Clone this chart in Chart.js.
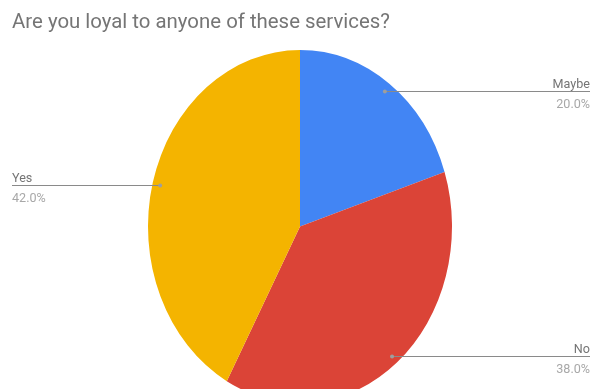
<!DOCTYPE html>
<html lang="en">
<head>
    <meta charset="UTF-8">
    <title>Are you loyal to anyone of these services?</title>
    <script src="https://cdn.jsdelivr.net/npm/chart.js"></script>
    <style>
        body {
            margin: 0;
            background: #fff;
        }
        .wrap {
            position: relative;
            width: 597px;
            height: 389px;
            overflow: hidden;
        }
        .title {
            position: absolute;
            left: 12px;
            top: 9px;
            font-family: Roboto, sans-serif;
            font-size: 20.4px;
            color: #757575;
            white-space: nowrap;
        }
    </style>
</head>
<body>
    <div class="wrap">
        <canvas id="loyalChart" width="597" height="389"></canvas>
        <div class="title">Are you loyal to anyone of these services?</div>
    </div>

    <script>
        const labels = ['Maybe', 'No', 'Yes'];
        const values = [20, 38, 42];
        const colors = ['#4285F4', '#DB4437', '#F4B400'];

        // the reference pie is stretched vertically
        const stretchY = 176.5 / 152;

        const stretchPlugin = {
            id: 'stretch',
            beforeDatasetsDraw(chart) {
                const arc = chart.getDatasetMeta(0).data[0];
                const ctx = chart.ctx;
                ctx.save();
                ctx.translate(arc.x, arc.y);
                ctx.scale(1, stretchY);
                ctx.translate(-arc.x, -arc.y);
            },
            afterDatasetsDraw(chart) {
                chart.ctx.restore();
            }
        };

        const calloutPlugin = {
            id: 'callouts',
            afterDraw(chart) {
                const ctx = chart.ctx;
                const total = values.reduce((a, b) => a + b, 0);
                chart.getDatasetMeta(0).data.forEach((arc, i) => {
                    const mid = (arc.startAngle + arc.endAngle) / 2;
                    const r = arc.outerRadius * 0.95;
                    const px = arc.x + Math.cos(mid) * r;
                    const py = arc.y + Math.sin(mid) * r * stretchY;
                    const right = px > arc.x;
                    const endX = right ? 590 : 12;
                    const ly = Math.round(py) + 0.5;

                    ctx.save();
                    ctx.strokeStyle = '#8a8a8a';
                    ctx.lineWidth = 1;
                    ctx.beginPath();
                    ctx.moveTo(px, ly);
                    ctx.lineTo(endX, ly);
                    ctx.stroke();

                    ctx.fillStyle = '#9e9e9e';
                    ctx.beginPath();
                    ctx.arc(px, ly, 2, 0, Math.PI * 2);
                    ctx.fill();

                    ctx.font = '12.6px Roboto, sans-serif';
                    ctx.textAlign = right ? 'right' : 'left';
                    ctx.textBaseline = 'alphabetic';
                    ctx.fillStyle = '#757575';
                    ctx.fillText(labels[i], endX, ly - 4);
                    ctx.fillStyle = '#a8a8a8';
                    ctx.fillText((values[i] / total * 100).toFixed(1) + '%', endX, ly + 16);
                    ctx.restore();
                });
            }
        };

        new Chart(document.getElementById('loyalChart').getContext('2d'), {
            type: 'pie',
            data: {
                labels: labels,
                datasets: [{
                    data: values,
                    backgroundColor: colors,
                    borderWidth: 0
                }]
            },
            options: {
                responsive: false,
                animation: false,
                layout: {
                    padding: { left: 148, right: 145, top: 74.5, bottom: 10.5 }
                },
                plugins: {
                    legend: { display: false },
                    tooltip: { enabled: false }
                }
            },
            plugins: [stretchPlugin, calloutPlugin]
        });
    </script>
</body>
</html>
